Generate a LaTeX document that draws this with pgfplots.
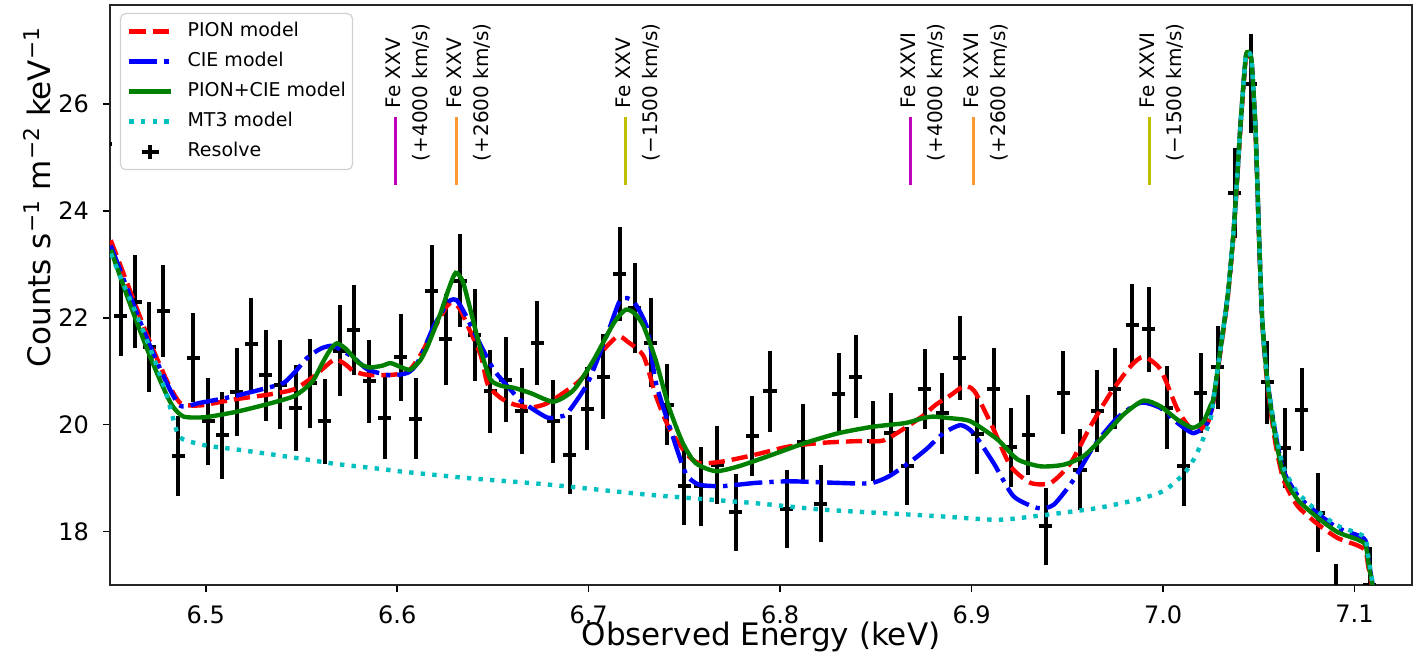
\documentclass[border=0pt]{standalone}
\usepackage{fontspec}
\setmainfont{DejaVu Sans}
\usepackage{pgfplots}
\usepackage{pgfplotstable}
\pgfplotsset{compat=1.18}

\definecolor{mplred}{rgb}{1,0,0}
\definecolor{mplblue}{rgb}{0,0,1}
\definecolor{mplgreen}{rgb}{0,0.5,0}
\definecolor{mplcyan}{rgb}{0,0.75,0.75}
\definecolor{mplmag}{rgb}{0.75,0,0.75}
\definecolor{mplorange}{rgb}{1,0.6,0.2}
\definecolor{mplolive}{rgb}{0.75,0.75,0}

% Resolve spectrum: energy, counts, 1-sigma
\pgfplotstableread{
x y ye
6.4478 25.25 0.90
6.4556 22.04 0.76
6.4631 22.30 0.87
6.4704 21.45 0.84
6.4779 22.13 0.86
6.4857 19.42 0.75
6.4936 21.25 0.83
6.5014 20.06 0.82
6.5087 19.80 0.81
6.5162 20.61 0.83
6.5239 21.51 0.86
6.5313 20.92 0.85
6.5388 20.75 0.83
6.5470 20.31 0.80
6.5545 20.77 0.84
6.5621 20.06 0.79
6.5700 21.38 0.85
6.5774 21.77 0.85
6.5853 20.81 0.78
6.5935 20.13 0.77
6.6018 21.26 0.81
6.6097 20.11 0.76
6.6180 22.50 0.86
6.6253 21.60 0.85
6.6328 22.69 0.87
6.6406 21.68 0.86
6.6485 20.62 0.78
6.6567 20.84 0.79
6.6650 20.25 0.80
6.6732 21.53 0.79
6.6816 20.06 0.77
6.6901 19.44 0.74
6.6993 20.30 0.78
6.7077 20.90 0.79
6.7162 22.82 0.88
6.7240 22.18 0.84
6.7324 21.53 0.83
6.7411 20.37 0.76
6.7498 18.85 0.73
6.7585 18.85 0.74
6.7672 19.24 0.73
6.7768 18.36 0.72
6.7855 19.78 0.75
6.7947 20.62 0.76
6.8034 18.42 0.73
6.8121 19.67 0.72
6.8211 18.52 0.72
6.8307 20.58 0.76
6.8394 20.90 0.78
6.8485 19.69 0.75
6.8577 19.84 0.75
6.8664 19.22 0.73
6.8756 20.67 0.75
6.8847 20.21 0.76
6.8939 21.25 0.78
6.9030 19.83 0.75
6.9116 20.67 0.76
6.9204 19.58 0.74
6.9296 19.81 0.75
6.9386 18.10 0.72
6.9479 20.60 0.77
6.9566 19.16 0.75
6.9656 20.25 0.77
6.9747 20.67 0.76
6.9839 21.86 0.77
6.9926 21.78 0.79
7.0018 20.32 0.77
7.0109 19.22 0.74
7.0196 20.59 0.75
7.0286 21.07 0.78
7.0375 24.34 0.84
7.0457 26.38 0.93
7.0544 20.79 0.78
7.0636 19.57 0.75
7.0723 20.28 0.77
7.0810 18.35 0.74
7.0901 16.68 0.72
7.1080 17.00 0.72
}\resolve

\pgfplotstableread{
x y
6.4504 23.45
6.4600 22.55
6.4700 21.62
6.4800 20.80
6.4869 20.40
6.4974 20.36
6.5146 20.47
6.5324 20.56
6.5460 20.66
6.5564 20.90
6.5668 21.21
6.5721 21.15
6.5773 21.00
6.5846 20.93
6.5966 20.93
6.6055 20.99
6.6123 21.31
6.6191 21.78
6.6260 22.22
6.6295 22.28
6.6330 22.15
6.6368 21.85
6.6436 21.30
6.6473 20.75
6.6540 20.50
6.6608 20.38
6.6697 20.32
6.6770 20.38
6.6838 20.52
6.6958 20.84
6.7063 21.34
6.7151 21.65
6.7204 21.55
6.7287 21.28
6.7350 20.55
6.7418 19.95
6.7507 19.47
6.7574 19.28
6.7700 19.31
6.7872 19.44
6.8044 19.59
6.8222 19.66
6.8394 19.69
6.8535 19.70
6.8640 19.91
6.8744 20.16
6.8812 20.37
6.8890 20.55
6.8958 20.72
6.9000 20.68
6.9031 20.53
6.9115 19.91
6.9204 19.22
6.9308 18.91
6.9413 18.91
6.9517 19.28
6.9621 19.97
6.9726 20.59
6.9830 21.09
6.9898 21.27
6.9987 21.03
7.0076 20.28
7.0159 19.88
7.0232 20.03
7.0264 20.45
7.0295 21.25
7.0337 22.35
7.0370 23.65
7.0405 25.60
7.0431 26.80
7.0445 26.92
7.0462 26.75
7.0483 25.45
7.0500 23.60
7.0518 21.90
7.0546 20.70
7.0587 19.65
7.0629 18.97
7.0702 18.48
7.0807 18.14
7.0911 17.88
7.1016 17.74
7.1057 17.64
7.1073 17.32
7.1094 16.95
7.1110 16.70
}\pion

\pgfplotstableread{
x y
6.4504 23.35
6.4600 22.45
6.4700 21.55
6.4800 20.75
6.4869 20.35
6.4974 20.41
6.5146 20.53
6.5324 20.69
6.5407 20.78
6.5470 21.00
6.5530 21.25
6.5600 21.42
6.5668 21.47
6.5773 21.25
6.5846 21.03
6.5966 20.92
6.6055 20.97
6.6100 21.12
6.6138 21.40
6.6191 21.84
6.6250 22.20
6.6279 22.33
6.6310 22.33
6.6347 22.12
6.6420 21.60
6.6504 21.03
6.6593 20.65
6.6645 20.45
6.6713 20.28
6.6786 20.13
6.6850 20.15
6.6890 20.22
6.6995 20.78
6.7099 21.71
6.7167 22.34
6.7235 22.30
6.7308 21.78
6.7350 20.80
6.7439 19.78
6.7507 19.09
6.7574 18.88
6.7700 18.85
6.7872 18.91
6.8044 18.94
6.8222 18.92
6.8394 18.90
6.8483 18.91
6.8567 19.03
6.8671 19.28
6.8760 19.53
6.8854 19.84
6.8943 19.99
6.9010 19.84
6.9115 19.28
6.9219 18.66
6.9345 18.44
6.9428 18.50
6.9533 18.97
6.9637 19.59
6.9762 20.13
6.9883 20.41
6.9987 20.31
7.0076 20.03
7.0159 19.84
7.0232 20.03
7.0264 20.50
7.0295 21.30
7.0337 22.40
7.0370 23.70
7.0405 25.65
7.0431 26.85
7.0445 26.97
7.0462 26.80
7.0483 25.50
7.0500 23.65
7.0518 21.95
7.0546 20.80
7.0587 19.83
7.0629 19.14
7.0702 18.68
7.0807 18.34
7.0911 18.07
7.1016 17.93
7.1057 17.83
7.1073 17.45
7.1094 17.02
7.1110 16.70
}\cie

\pgfplotstableread{
x y
6.4504 23.27
6.4600 22.30
6.4702 21.34
6.4780 20.68
6.4828 20.34
6.4885 20.15
6.5000 20.14
6.5172 20.25
6.5350 20.41
6.5460 20.53
6.5520 20.68
6.5564 20.84
6.5609 21.15
6.5650 21.40
6.5685 21.52
6.5731 21.42
6.5801 21.15
6.5853 21.07
6.5920 21.10
6.5966 21.15
6.6030 21.06
6.6070 21.03
6.6120 21.20
6.6159 21.47
6.6227 22.09
6.6270 22.55
6.6305 22.84
6.6340 22.70
6.6368 22.35
6.6436 21.40
6.6488 20.84
6.6550 20.72
6.6608 20.69
6.6697 20.59
6.6817 20.43
6.6922 20.65
6.7026 21.21
6.7131 21.90
6.7193 22.15
6.7240 22.08
6.7287 21.84
6.7350 21.21
6.7418 20.34
6.7491 19.66
6.7559 19.28
6.7663 19.13
6.7783 19.22
6.7961 19.44
6.8133 19.66
6.8305 19.84
6.8483 19.96
6.8655 20.03
6.8744 20.12
6.8800 20.15
6.8890 20.12
6.8995 20.06
6.9136 19.72
6.9240 19.35
6.9360 19.22
6.9480 19.25
6.9585 19.41
6.9689 19.78
6.9794 20.19
6.9898 20.45
6.9987 20.34
7.0076 20.09
7.0154 19.94
7.0211 20.06
7.0248 20.36
7.0264 20.50
7.0295 21.30
7.0337 22.40
7.0370 23.70
7.0405 25.65
7.0431 26.85
7.0445 26.97
7.0462 26.80
7.0483 25.50
7.0500 23.65
7.0518 21.95
7.0546 20.78
7.0587 19.76
7.0629 19.07
7.0702 18.60
7.0807 18.26
7.0911 17.99
7.1016 17.85
7.1057 17.75
7.1073 17.40
7.1094 17.00
7.1110 16.70
}\both

\pgfplotstableread{
x y
6.4504 23.20
6.4580 22.55
6.4650 21.96
6.4739 21.15
6.4800 20.50
6.4852 19.84
6.4885 19.72
6.5000 19.61
6.5172 19.53
6.5350 19.44
6.5522 19.35
6.5689 19.26
6.5919 19.17
6.6003 19.13
6.6368 19.00
6.6786 18.88
6.7308 18.69
6.7872 18.53
6.8222 18.41
6.8812 18.29
6.9136 18.22
6.9360 18.30
6.9658 18.44
6.9867 18.60
7.0003 18.76
7.0107 19.07
7.0160 19.35
7.0196 19.62
7.0248 20.10
7.0264 20.50
7.0295 21.30
7.0337 22.40
7.0370 23.70
7.0405 25.65
7.0431 26.85
7.0445 26.97
7.0462 26.80
7.0483 25.50
7.0500 23.65
7.0518 21.95
7.0546 20.80
7.0587 19.88
7.0629 19.20
7.0702 18.73
7.0807 18.38
7.0911 18.11
7.1016 17.97
7.1057 17.87
7.1073 17.50
7.1094 17.05
7.1110 16.70
}\mtthree

\begin{document}
\begin{tikzpicture}
\useasboundingbox (-55pt,-39.5pt) rectangle (655.5pt,292.5pt);
\begin{axis}[
  at={(0,0)}, anchor=south west,
  scale only axis, width=651pt, height=290pt,
  xmin=6.45, xmax=7.13, ymin=17, ymax=27.85,
  xtick={6.5,6.6,6.7,6.8,6.9,7.0,7.1},
  xticklabels={6.5,6.6,6.7,6.8,6.9,7.0,7.1},
  ytick={18,20,22,24,26},
  yticklabels={18,20,22,24,26},
  tick pos=left, tick align=outside,
  major tick length=3.5pt,
  tick style={black, line width=0.8pt},
  axis line style={black!85, line width=0.8pt},
  ticklabel style={font=\fontsize{12}{14}\selectfont, inner sep=0pt},
  xticklabel style={anchor=north, yshift=-6.5pt},
  yticklabel style={anchor=east, xshift=-6.8pt},
  xlabel={Observed Energy (keV)},
  ylabel={Counts s\textsuperscript{−1} m\textsuperscript{−2} keV\textsuperscript{−1}},
  label style={font=\fontsize{15.5}{18}\selectfont},
  xlabel style={at={(rel axis cs:0.5,0)}, anchor=center, yshift=-25.8pt},
  ylabel style={at={(rel axis cs:0,0.669)}, anchor=center, yshift=36.5pt},
  legend image code/.code={\draw[#1] (0pt,0pt) -- (21pt,0pt);},
  legend cell align=left,
  legend style={at={(rel axis cs:0,1)}, anchor=north west,
    xshift=5pt, yshift=-4pt, draw=black!18, line width=0.6pt,
    rounded corners=2.5pt, inner xsep=3.3pt, inner ysep=4.5pt,
    font=\fontsize{9.5}{11}\selectfont, row sep=6pt,
    nodes={inner sep=0pt, text height=7pt, text depth=2pt},
    /tikz/every odd column/.append style={column sep=7pt}},
]

\addplot[draw=none, mark=none, forget plot,
  error bars/.cd, x dir=both, x fixed=0.0034, y dir=both, y explicit,
  error mark=none, error bar style={draw=black, line width=2pt, solid}]
  table[x=x, y=y, y error=ye] {\resolve};

\addplot[mplred, line width=2.2pt, dash pattern=on 8.1pt off 3.5pt, smooth, tension=0.4]
  table[x=x, y=y] {\pion};
\addplot[mplblue, line width=2.2pt, dash pattern=on 14pt off 3.5pt on 2.2pt off 3.5pt, smooth, tension=0.4]
  table[x=x, y=y] {\cie};
\addplot[mplgreen, line width=2.2pt, smooth, tension=0.4]
  table[x=x, y=y] {\both};
\addplot[mplcyan, line width=2.2pt, dash pattern=on 2.2pt off 3.6pt, smooth, tension=0.4]
  table[x=x, y=y] {\mtthree};
\addlegendimage{legend image code/.code={
  \draw[black, line width=2pt] (10.5pt,-3.5pt) -- (10.5pt,3.5pt);
  \draw[black, line width=2pt] (6.25pt,0pt) -- (14.75pt,0pt);}}
\legend{PION model, CIE model, PION+CIE model, MT3 model, Resolve}

% line markers
\addplot[mplmag, line width=1.2pt, forget plot] coordinates {(6.5992,24.49) (6.5992,25.76)};
\addplot[mplorange, line width=1.2pt, forget plot] coordinates {(6.6309,24.49) (6.6309,25.76)};
\addplot[mplolive, line width=1.2pt, forget plot] coordinates {(6.7193,24.49) (6.7193,25.76)};
\addplot[mplmag, line width=1.2pt, forget plot] coordinates {(6.8681,24.49) (6.8681,25.76)};
\addplot[mplorange, line width=1.2pt, forget plot] coordinates {(6.9009,24.49) (6.9009,25.76)};
\addplot[mplolive, line width=1.2pt, forget plot] coordinates {(6.9930,24.49) (6.9930,25.76)};

% rotated labels: in the rotated frame yshift<0 moves the text to the right
\tikzset{lab/.style={rotate=90, anchor=west, inner sep=0pt, font=\fontsize{10}{12}\selectfont}}
\node[lab, yshift=1pt] at (axis cs:6.5992,25.91) {Fe XXV};
\node[lab, yshift=-13pt] at (axis cs:6.5992,24.92) {(+4000 km/s)};
\node[lab, yshift=1pt] at (axis cs:6.6309,25.91) {Fe XXV};
\node[lab, yshift=-13pt] at (axis cs:6.6309,24.92) {(+2600 km/s)};
\node[lab, yshift=1pt] at (axis cs:6.7193,25.91) {Fe XXV};
\node[lab, yshift=-13pt] at (axis cs:6.7193,24.92) {(−1500 km/s)};
\node[lab, yshift=1pt] at (axis cs:6.8681,25.91) {Fe XXVI};
\node[lab, yshift=-13pt] at (axis cs:6.8681,24.92) {(+4000 km/s)};
\node[lab, yshift=1pt] at (axis cs:6.9009,25.91) {Fe XXVI};
\node[lab, yshift=-13pt] at (axis cs:6.9009,24.92) {(+2600 km/s)};
\node[lab, yshift=1pt] at (axis cs:6.9930,25.91) {Fe XXVI};
\node[lab, yshift=-13pt] at (axis cs:6.9930,24.92) {(−1500 km/s)};
\end{axis}
\end{tikzpicture}
\end{document}
